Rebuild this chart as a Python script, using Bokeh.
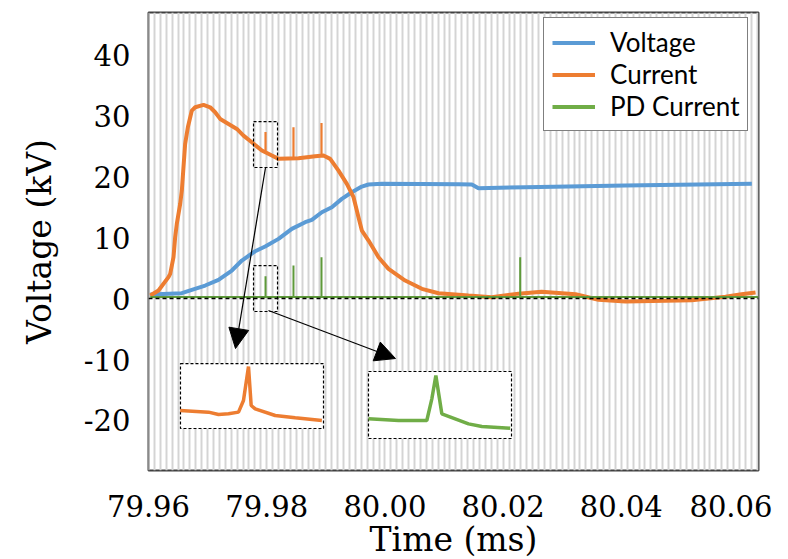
from bokeh.plotting import figure
from bokeh.models import (Range1d, FixedTicker, SingleIntervalTicker, PrintfTickFormatter,
                          Legend, LegendItem, Span, Arrow, NormalHead)
from bokeh.embed import file_html
from bokeh.resources import INLINE

# ---------------- data (time in ms, values in kV) ----------------
voltage_t = [79.9603, 79.96564, 79.96733, 79.96959, 79.97184, 79.97410, 79.97579, 79.97805,
             79.97974, 79.98200, 79.98425, 79.98651, 79.98764, 79.98933, 79.99102, 79.99271,
             79.99440, 79.99609, 79.99722, 79.99948, 80.01245, 80.01471, 80.01584, 80.02374,
             80.04066, 80.06208]
voltage_kv = [0.65, 0.87, 1.42, 2.13, 3.06, 4.59, 6.23, 7.75,
              8.52, 9.78, 11.42, 12.51, 12.90, 14.15, 14.97, 16.34,
              17.43, 18.36, 18.69, 18.80, 18.75, 18.7, 18.08, 18.25,
              18.52, 18.8]

current_t = [79.9603, 79.96169, 79.96338, 79.96367, 79.96423, 79.96451, 79.96479, 79.96536,
             79.96564, 79.96592, 79.96620, 79.96666, 79.96733, 79.96790, 79.96931, 79.97043,
             79.97128, 79.97213, 79.97354, 79.97495, 79.97607, 79.97748, 79.97918, 79.98087,
             79.98200, 79.98538, 79.98820, 79.98961, 79.99074, 79.99215, 79.99356, 79.99469,
             79.99553, 79.99610, 79.99723, 79.99892, 80.00061, 80.00343, 80.00625, 80.00907,
             80.01415, 80.01804, 80.02261, 80.02650, 80.03225, 80.03614, 80.04071, 80.05188,
             80.05763, 80.06034, 80.06271]
current_kv = [0.49, 1.31, 3.5, 4.04, 6.78, 10.05, 12.24, 15.52,
              17.70, 21.53, 25.36, 28.09, 30.82, 31.36, 31.75, 31.36,
              30.55, 29.45, 28.63, 27.81, 26.72, 25.63, 24.26, 23.44,
              22.90, 23.01, 23.33, 23.44, 22.90, 20.98, 18.80, 16.61,
              13.33, 11.15, 9.51, 6.78, 4.86, 2.95, 1.59, 0.87,
              0.49, 0.2, 0.8, 1.1, 0.7, -0.2, -0.5, -0.3,
              0.3, 0.7, 1.0]

current_spike_t = [79.97980, 79.98453, 79.98927]
current_spike_base = [24.2, 23.0, 23.4]
current_spike_top = [27.3, 28.1, 28.8]

pd_t = [79.9603, 79.97980, 79.97980, 79.97980, 79.98453, 79.98453, 79.98453,
        79.98927, 79.98927, 79.98927, 80.02289, 80.02289, 80.02289, 80.0632]
pd_kv = [0.25, 0.25, 3.66, 0.25, 0.25, 5.41, 0.25,
         0.25, 6.78, 0.25, 0.25, 6.78, 0.25, 0.25]

# zoom boxes around the first spike (current / PD current)
zoom_left = [79.97777, 79.97777]
zoom_right = [79.98183, 79.98183]
zoom_bottom = [21.48, -2.13]
zoom_top = [29.02, 5.41]

# magnified insets
inset_left = [79.96541, 79.99722]
inset_right = [79.98961, 80.02142]
inset_bottom = [-21.31, -22.95]
inset_top = [-10.66, -11.97]

inset_current_t = [79.96536, 79.97015, 79.97184, 79.97354, 79.97523, 79.97607, 79.97692,
                   79.97737, 79.97805, 79.98144, 79.98482, 79.98933]
inset_current_kv = [-18.36, -18.63, -19.02, -18.91, -18.63, -16.72, -11.15,
                    -17.54, -18.09, -19.18, -19.56, -20.0]
inset_pd_t = [79.99722, 80.00230, 80.00709, 80.00794, 80.00862, 80.00919, 80.00963,
              80.01415, 80.01640, 80.02120]
inset_pd_kv = [-19.73, -20.0, -20.0, -16.45, -12.62, -16.17, -18.91,
               -20.55, -20.98, -21.26]

# arrows from zoom boxes to insets
arrow_x0 = [79.97980, 79.98030]
arrow_y0 = [21.48, -1.97]
arrow_x1 = [79.97472, 80.00179]
arrow_y1 = [-8.20, -9.84]

x_ticks = [79.96, 79.98, 80.00, 80.02, 80.04, 80.06]
y_ticks = [-20, -10, 0, 10, 20, 30, 40]

BLUE = "#5B9BD5"
ORANGE = "#ED7D31"
GREEN = "#70AD47"
GREEN_DARK = "#5E9A3A"
SERIF = "DejaVu Serif"

p = figure(width=772, height=562, output_backend="svg", toolbar_location=None,
           x_range=Range1d(79.96, 80.06321), y_range=Range1d(-28.2, 46.9),
           min_border_left=148, min_border_right=14, min_border_top=12, min_border_bottom=92)

p.background_fill_color = "white"
p.border_fill_color = "white"
p.outline_line_color = "#404040"
p.outline_line_width = 2

# dense vertical grid
p.xgrid.ticker = SingleIntervalTicker(interval=0.001, num_minor_ticks=0)
p.xgrid.grid_line_color = "#d4d4d4"
p.xgrid.grid_line_width = 2
p.ygrid.grid_line_color = None

for ax in (p.xaxis[0], p.yaxis[0]):
    ax.axis_line_color = None
    ax.major_tick_line_color = None
    ax.minor_tick_line_color = None
    ax.major_label_text_font = SERIF
    ax.major_label_text_font_size = "29px"
    ax.major_label_text_color = "black"
    ax.axis_label_text_font = SERIF
    ax.axis_label_text_font_size = "33px"
    ax.axis_label_text_font_style = "normal"
    ax.axis_label_text_color = "black"

p.xaxis.ticker = FixedTicker(ticks=x_ticks)
p.xaxis.formatter = PrintfTickFormatter(format="%.2f")
p.xaxis.major_label_standoff = 18
p.xaxis.axis_label = "Time (ms)"
p.xaxis.axis_label_standoff = 0

p.yaxis.ticker = FixedTicker(ticks=y_ticks)
p.yaxis.formatter = PrintfTickFormatter(format="%d")
p.yaxis.major_label_standoff = 12
p.yaxis.axis_label = "Voltage (kV)"
p.yaxis.axis_label_standoff = 22

# insets (white boxes with dashed border)
p.quad(left=inset_left, right=inset_right, bottom=inset_bottom, top=inset_top,
       fill_color="white", line_color="black", line_dash="3 2", line_width=1.2)
p.line(inset_current_t, inset_current_kv, line_color=ORANGE, line_width=3.5)
p.line(inset_pd_t, inset_pd_kv, line_color=GREEN, line_width=3.5)

# main series
rv = p.line(voltage_t, voltage_kv, line_color=BLUE, line_width=4)
p.segment(x0=current_spike_t, y0=current_spike_base, x1=current_spike_t, y1=current_spike_top,
          line_color=ORANGE, line_width=2.2)
rc = p.line(current_t, current_kv, line_color=ORANGE, line_width=4)
p.line(pd_t, pd_kv, line_color=GREEN_DARK, line_width=2)
rpd = p.line(x=[float("nan")], y=[float("nan")], line_color=GREEN, line_width=4)

# zoom boxes
p.quad(left=zoom_left, right=zoom_right, bottom=zoom_bottom, top=zoom_top,
       fill_color=None, line_color="black", line_dash="3 2", line_width=1.2)

zero = Span(location=0, dimension="width", line_color="black", line_dash="4 3", line_width=1.5)
p.add_layout(zero)

for i in range(len(arrow_x0)):
    p.add_layout(Arrow(end=NormalHead(size=20, fill_color="black", line_color="black"),
                       x_start=arrow_x0[i], y_start=arrow_y0[i],
                       x_end=arrow_x1[i], y_end=arrow_y1[i],
                       line_color="black", line_width=1.2))

legend = Legend(items=[LegendItem(label="Voltage", renderers=[rv]),
                       LegendItem(label="Current", renderers=[rc]),
                       LegendItem(label="PD Current", renderers=[rpd])],
                location=(395, 339))
legend.label_text_font = "Lato"
legend.label_text_font_size = "26px"
legend.label_text_color = "black"
legend.glyph_width = 43
legend.glyph_height = 31
legend.label_height = 31
legend.label_standoff = 15
legend.padding = 8
legend.spacing = 0
legend.margin = 0
legend.border_line_color = "black"
legend.border_line_width = 1.5
legend.background_fill_color = "white"
legend.background_fill_alpha = 1
p.add_layout(legend)

open("out.html", "w").write(file_html(p, INLINE))
